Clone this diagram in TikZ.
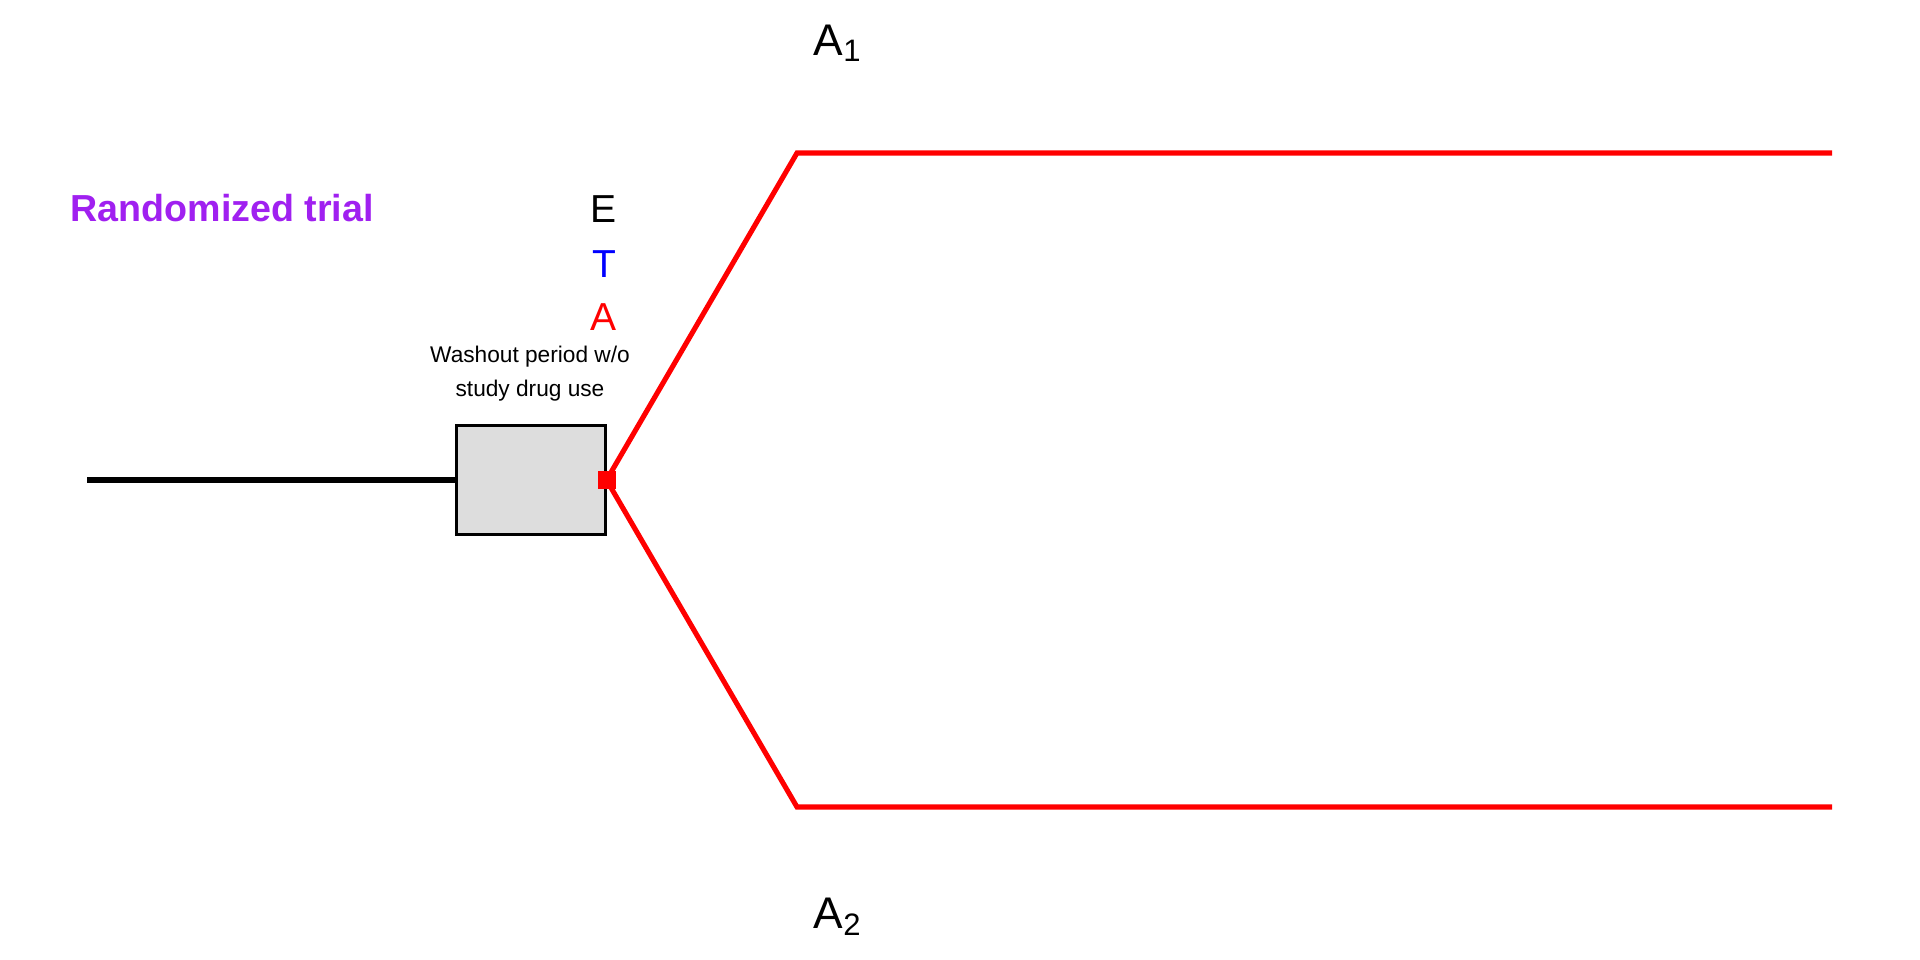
\documentclass[tikz,border=0pt]{standalone}
\usepackage{fontspec}
\setmainfont{Liberation Sans}
\definecolor{rtpurple}{HTML}{A020F0}
\definecolor{boxgray}{HTML}{DDDDDD}
\begin{document}
\begin{tikzpicture}[x=0.01cm,y=-0.01cm,
  armline/.style={draw=red,line width=1.45pt},
  baseline/.style={draw=black,line width=1.5pt},
  washbox/.style={draw=black,fill=boxgray,line width=0.85pt,minimum width=1.48cm,minimum height=1.08cm,inner sep=0pt},
  redsq/.style={fill=red,minimum size=0.18cm,inner sep=0pt},
  letter/.style={font=\fontsize{11.1}{13}\selectfont,inner sep=0pt,anchor=base},
  armlabel/.style={font=\fontsize{12.6}{14}\selectfont,inner sep=0pt,anchor=base west},
  title/.style={font=\fontsize{10.7}{13}\selectfont\bfseries,text=rtpurple,inner sep=0pt,anchor=base west},
  washtext/.style={font=\fontsize{6.45}{9.4}\selectfont,align=center,inner sep=0pt,anchor=base}
]
\useasboundingbox (0,0) rectangle (1920,960);
\coordinate (start) at (87,480);
\node[washbox] (box) at (531,480) {};
\coordinate (up) at (797,153);
\coordinate (upend) at (1832,153);
\coordinate (dn) at (797,807);
\coordinate (dnend) at (1832,807);
\draw[baseline] (start) -- (box.west);
\draw[armline] (box.east) -- (up) -- (upend);
\draw[armline] (box.east) -- (dn) -- (dnend);
\node[redsq] (sq) at (box.east) {};
\node[title] (rt) at (70,221) {Randomized trial};
\node[letter] (E) at (604,222) {E};
\node[letter,text=blue] (T) at (604,277) {T};
\node[letter,text=red] (A) at (604,330) {A};
\node[washtext] (wash) at (530,396) {Washout period w/o\\study drug use};
\node[armlabel] (A1) at (813,55) {A\textsubscript{1}};
\node[armlabel] (A2) at (813,928) {A\textsubscript{2}};
\end{tikzpicture}
\end{document}
